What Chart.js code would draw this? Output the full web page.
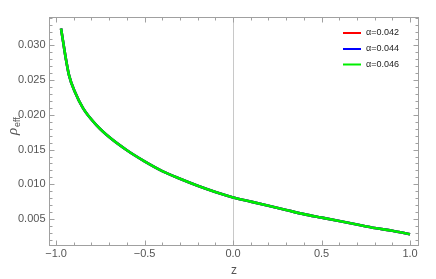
<!DOCTYPE html>
<html><head><meta charset="utf-8">
<script src="https://cdn.jsdelivr.net/npm/chart.js@4/dist/chart.umd.min.js"></script>
<style>html,body{margin:0;padding:0;background:#fff}#wrap{width:436px;height:279px}</style>
</head><body><div id="wrap"><canvas id="c" width="436" height="279"></canvas></div>
<script>
const zValues = [-0.972,-0.960,-0.945,-0.927,-0.894,-0.847,-0.772,-0.70,-0.60,-0.50,-0.40,-0.30,-0.20,-0.10,0.00,0.10,0.20,0.30,0.40,0.50,0.60,0.70,0.80,0.90,1.00];
const rhoA042 = [0.03244,0.03051,0.02812,0.02572,0.02332,0.02093,0.01852,0.0168,0.0149,0.0133,0.0119,0.0108,0.0098,0.0089,0.0081,0.0075,0.0069,0.0063,0.0057,0.0052,0.0047,0.0042,0.0037,0.0033,0.0028];
const rhoA044 = [0.03244,0.03051,0.02812,0.02572,0.02332,0.02093,0.01852,0.0168,0.0149,0.0133,0.0119,0.0108,0.0098,0.0089,0.0081,0.0075,0.0069,0.0063,0.0057,0.0052,0.0047,0.0042,0.0037,0.0033,0.0028];
const rhoA046 = [0.03244,0.03051,0.02812,0.02572,0.02332,0.02093,0.01852,0.0168,0.0149,0.0133,0.0119,0.0108,0.0098,0.0089,0.0081,0.0075,0.0069,0.0063,0.0057,0.0052,0.0047,0.0042,0.0037,0.0033,0.0028];
const seriesLabels = ['α=0.042','α=0.044','α=0.046'];
const seriesColors = ['#ff0000','#0000ff','#00ee00'];
const xTicks = [-1.0,-0.5,0.0,0.5,1.0];
const xTickLabels = ['−1.0','−0.5','0.0','0.5','1.0'];
const yTicks = [0.005,0.010,0.015,0.020,0.025,0.030];
const yTickLabels = ['0.005','0.010','0.015','0.020','0.025','0.030'];

const toPts = arr => zValues.map((z,i)=>({x:z,y:arr[i]}));
const allSeries = [rhoA042, rhoA044, rhoA046];

const framePlugin = {
  id:'frame',
  beforeDatasetsDraw(chart){
    const ctx = chart.ctx, a = chart.chartArea, xs = chart.scales.x;
    const px = Math.round(xs.getPixelForValue(0)) + 0.5;
    ctx.save();
    ctx.strokeStyle = '#c8c8c8'; ctx.lineWidth = 1;
    ctx.beginPath(); ctx.moveTo(px,a.top); ctx.lineTo(px,a.bottom); ctx.stroke();
    ctx.restore();
  },
  afterDraw(chart){
    const ctx = chart.ctx, a = chart.chartArea, xs = chart.scales.x, ys = chart.scales.y;
    const L = Math.round(a.left)+0.5, R = Math.round(a.right)+0.5, T = Math.round(a.top)+0.5, B = Math.round(a.bottom)+0.5;
    ctx.save();
    ctx.strokeStyle = '#a0a0a0'; ctx.lineWidth = 1;
    ctx.strokeRect(L, T, R-L, B-T);
    for (let k=-10;k<=10;k++){
      const v = k/10;
      const major = (k%5===0);
      const len = major?5:3;
      const p = Math.round(xs.getPixelForValue(v))+0.5;
      if (p<L||p>R) continue;
      ctx.beginPath();
      ctx.moveTo(p,B); ctx.lineTo(p,B-len);
      ctx.moveTo(p,T); ctx.lineTo(p,T+len);
      ctx.stroke();
    }
    for (let k=2;k<=34;k++){
      const v = k/1000;
      const major = (k%5===0);
      const len = major?5:3;
      const p = Math.round(ys.getPixelForValue(v))+0.5;
      if (p<T||p>B) continue;
      ctx.beginPath();
      ctx.moveTo(L,p); ctx.lineTo(L+len,p);
      ctx.moveTo(R,p); ctx.lineTo(R-len,p);
      ctx.stroke();
    }
    ctx.fillStyle = '#555555';
    ctx.font = '11px "Liberation Sans", Arial, sans-serif';
    ctx.textAlign = 'center'; ctx.textBaseline = 'top';
    xTicks.forEach((v,i)=>{ ctx.fillText(xTickLabels[i], xs.getPixelForValue(v), B+3); });
    ctx.textAlign = 'right'; ctx.textBaseline = 'middle';
    yTicks.forEach((v,i)=>{ ctx.fillText(yTickLabels[i], L-4, ys.getPixelForValue(v)); });
    ctx.textAlign = 'center'; ctx.textBaseline = 'middle';
    ctx.font = '12px "Liberation Sans", Arial, sans-serif';
    ctx.fillText('z', (L+R)/2, 271);
    ctx.save();
    ctx.translate(13, 124);
    ctx.rotate(-Math.PI/2);
    ctx.textAlign='left';
    ctx.font = 'italic 15px "Liberation Serif", "Times New Roman", serif';
    ctx.fillText('ρ', -11, 0);
    ctx.font = '9px "Liberation Sans", Arial, sans-serif';
    ctx.fillText('eff', -3, 5);
    ctx.restore();
    ctx.font = '9px "Liberation Sans", Arial, sans-serif';
    ctx.textAlign = 'left'; ctx.textBaseline = 'middle';
    const ly = [33, 49, 64.5];
    chart.data.datasets.forEach((ds,i)=>{
      ctx.strokeStyle = ds.borderColor; ctx.lineWidth = 2;
      ctx.beginPath(); ctx.moveTo(343, ly[i]); ctx.lineTo(361, ly[i]); ctx.stroke();
      ctx.fillStyle = '#222';
      ctx.fillText(ds.label, 366, ly[i]);
    });
    ctx.restore();
  }
};

new Chart(document.getElementById('c'), {
  type:'scatter',
  data:{ datasets: allSeries.map((arr,i)=>({
    label: seriesLabels[i], data: toPts(arr), showLine:true, pointRadius:0,
    borderColor: seriesColors[i], backgroundColor: seriesColors[i], borderWidth:2.6,
    cubicInterpolationMode:'monotone', fill:false, order: 2-i
  }))},
  options:{
    responsive:false, animation:false,
    layout:{padding:{left:49,right:18,top:17,bottom:34}},
    plugins:{legend:{display:false}, tooltip:{enabled:false}},
    scales:{
      x:{type:'linear', min:-1.04, max:1.045, display:false},
      y:{type:'linear', min:0.00125, max:0.0341, display:false}
    }
  },
  plugins:[framePlugin]
});
</script></body></html>
